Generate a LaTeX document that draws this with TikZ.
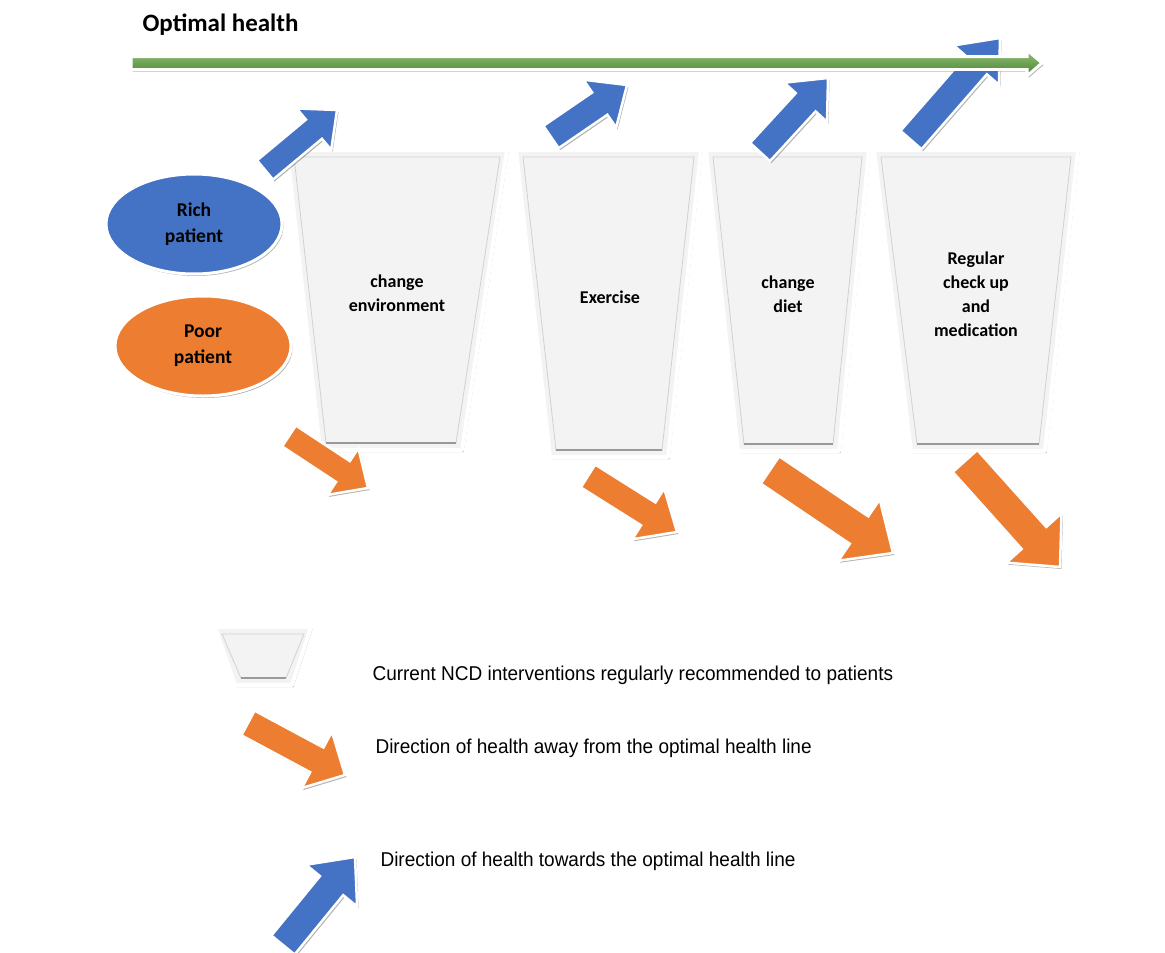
\documentclass[tikz,border=0pt]{standalone}
\usepackage{fontspec}
\setmainfont{Carlito}
\newfontfamily\legendfont[FakeStretch=0.95]{Liberation Sans}
\usetikzlibrary{calc,shapes.geometric,shadows}

\definecolor{hblue}{RGB}{68,114,196}
\definecolor{horange}{RGB}{237,125,49}
\definecolor{hgreen}{RGB}{112,173,71}
\definecolor{hgreendk}{RGB}{70,130,50}
\definecolor{cupgray}{RGB}{243,243,243}

\tikzset{
  softshadow/.style={drop shadow={shadow xshift=1.5pt, shadow yshift=-2pt, opacity=.3, fill=black}},
  bluearr/.style={fill=hblue, draw=white, line width=2.5pt, softshadow},
  orangearr/.style={fill=horange, draw=white, line width=2.5pt, softshadow},
  greenarr/.style={top color=hgreen!75!white, bottom color=hgreendk, draw=white, line width=3pt, softshadow},
  cupbody/.style={fill=cupgray, draw=white, line width=4pt, line join=round, softshadow},
  cupedge/.style={draw=black!18, line width=.8pt},
  cupbase/.style={draw=black!40, line width=1.5pt},
  patient/.style={ellipse, draw=white, line width=3pt, minimum width=176pt, minimum height=100pt,
    align=center, font=\fontsize{19.5}{26}\selectfont\bfseries, softshadow},
  cuplabel/.style={align=center, font=\fontsize{18}{24}\selectfont\bfseries},
  legendtext/.style={anchor=west, font=\fontsize{20}{24}\selectfont\legendfont}
}

% block arrow: style, tail, tip, shaft half width, head half width, head length
\newcommand{\fatarrow}[6]{%
  \coordinate (hb) at ($(#3)!#6!(#2)$);
  \path[#1] ($(#2)!#4!90:(#3)$) -- ($(hb)!#4!90:(#3)$) -- ($(hb)!#5!90:(#3)$) -- (#3)
    -- ($(hb)!#5!-90:(#3)$) -- ($(hb)!#4!-90:(#3)$) -- ($(#2)!#4!-90:(#3)$) -- cycle;
}

% intervention cup: name, top left x, top right x, bottom left x, bottom right x, top y, bottom y
\newcommand{\ncdcup}[7]{%
  \coordinate (#1tl) at (#2,#6);
  \coordinate (#1tr) at (#3,#6);
  \coordinate (#1br) at (#5,#7);
  \coordinate (#1bl) at (#4,#7);
  \path[cupbody] (#1tl) -- (#1tr) -- (#1br) -- (#1bl) -- cycle;
  \path[cupedge] ($(#1tl)+(7,7)$) -- ($(#1tr)+(-7,7)$) -- ($(#1br)+(-6,-7)$) -- ($(#1bl)+(6,-7)$) -- cycle;
  \path[cupbase] ($(#1bl)+(6,-7)$) -- ($(#1br)+(-6,-7)$);
}

\begin{document}
\begin{tikzpicture}[x=1pt, y=-1pt]
\useasboundingbox[fill=white] (0,0) rectangle (1165,953);

% cups
\ncdcup{env}{287}{507}{320}{462}{150}{450}
\ncdcup{ex}{516}{701}{550}{668}{150}{457}
\ncdcup{diet}{706}{869}{738}{839}{150}{451}
\ncdcup{chk}{874}{1078}{911}{1045}{150}{451}

\node[cuplabel] (envtxt) at (397,293) {change\\environment};
\node[cuplabel] (extxt) at (610,297) {Exercise};
\node[cuplabel] (diettxt) at (788,294) {change\\diet};
\node[cuplabel] (chktxt) at (976,294) {Regular\\check up\\and\\medication};

% patients
\node[patient, fill=hblue] (rich) at (194,224) {Rich\\patient};
\node[patient, fill=horange] (poor) at (203,346) {Poor\\patient};

% towards optimal health
\coordinate (up1a) at (265,170); \coordinate (up1b) at (337,110);
\coordinate (up2a) at (551,137); \coordinate (up2b) at (627,85);
\coordinate (up3a) at (760,152); \coordinate (up3b) at (828,78);
\coordinate (up4a) at (911,140); \coordinate (up4b) at (1000,38);
\fatarrow{bluearr}{up1a}{up1b}{12.5pt}{27pt}{30pt}
\fatarrow{bluearr}{up2a}{up2b}{13.5pt}{29pt}{33pt}
\fatarrow{bluearr}{up3a}{up3b}{13.5pt}{29pt}{33pt}
\fatarrow{bluearr}{up4a}{up4b}{14pt}{30pt}{36pt}

% away from optimal health
\coordinate (dn1a) at (289,436); \coordinate (dn1b) at (368,488);
\coordinate (dn2a) at (588,476); \coordinate (dn2b) at (677,532);
\coordinate (dn3a) at (770,470); \coordinate (dn3b) at (893,553);
\coordinate (dn4a) at (965,461); \coordinate (dn4b) at (1060,567);
\fatarrow{orangearr}{dn1a}{dn1b}{12.5pt}{28pt}{30pt}
\fatarrow{orangearr}{dn2a}{dn2b}{13.5pt}{30pt}{34pt}
\fatarrow{orangearr}{dn3a}{dn3b}{16.5pt}{37pt}{41pt}
\fatarrow{orangearr}{dn4a}{dn4b}{16.5pt}{37pt}{39pt}

% optimal health line
\coordinate (optA) at (131,63); \coordinate (optB) at (1042,63);
\fatarrow{greenarr}{optA}{optB}{6.5pt}{13pt}{15pt}
\node[anchor=west, font=\fontsize{25}{30}\selectfont\bfseries] (opt) at (139,25) {Optimal health};

% legend
\ncdcup{leg}{215}{311}{235}{292}{627}{685}
\coordinate (legdna) at (248,723); \coordinate (legdnb) at (345,775);
\fatarrow{orangearr}{legdna}{legdnb}{14pt}{32pt}{32pt}
\coordinate (legupa) at (283,945); \coordinate (legupb) at (355,857);
\fatarrow{bluearr}{legupa}{legupb}{15pt}{33pt}{37pt}

\node[legendtext] (legcup) at (369,675) {Current NCD interventions regularly recommended to patients};
\node[legendtext] (legdn) at (372,748) {Direction of health away from the optimal health line};
\node[legendtext] (legup) at (377,861) {Direction of health towards the optimal health line};
\end{tikzpicture}
\end{document}
